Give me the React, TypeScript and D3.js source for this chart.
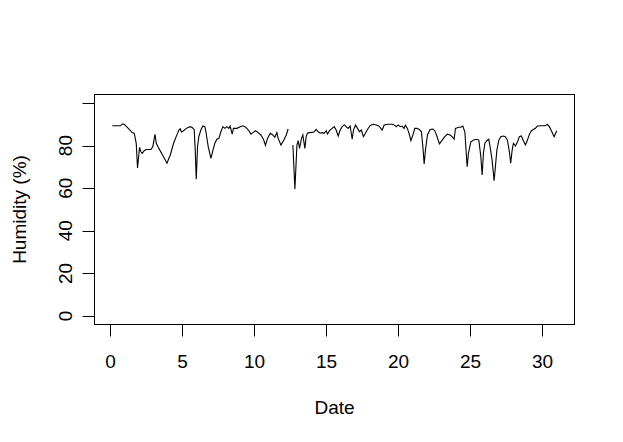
import React from "react";
import * as d3 from "d3";

// Day of month (fractional) and relative humidity (%); NaN marks missing data (gap)
const dayOffsets: number[] = [
  0.19, 0.74, 0.88, 1.02, 1.3, 1.57, 1.71, 1.85, 1.94, 2.08, 2.17, 2.27, 2.4, 2.54, 2.87, 3.0, 3.15, 3.24, 3.42, 3.74,
  3.98, 4.21, 4.44, 4.62, 4.81, 4.9, 4.99, 5.13, 5.32, 5.59, 5.73, 5.87, 5.94, 6.01, 6.1, 6.19, 6.33, 6.47, 6.61, 6.7,
  6.84, 7.03, 7.17, 7.3, 7.44, 7.58, 7.72, 7.86, 8.0, 8.14, 8.27, 8.36, 8.5, 8.59, 8.83, 9.06, 9.24, 9.38, 9.52, 9.66,
  9.8, 9.94, 10.12, 10.3, 10.49, 10.67, 10.81, 10.95, 11.14, 11.32, 11.46, 11.6, 11.69, 11.88, 12.06, 12.25, 12.38,
  12.55,
  12.71, 12.85, 12.99, 13.08, 13.17, 13.31, 13.4, 13.54, 13.63, 13.72, 13.86, 14.05, 14.19, 14.32, 14.46, 14.6, 14.74,
  14.88, 15.02, 15.11, 15.25, 15.43, 15.57, 15.71, 15.85, 15.99, 16.13, 16.27, 16.4, 16.54, 16.68, 16.82, 16.91, 17.05,
  17.19, 17.32, 17.46, 17.6, 17.74, 17.88, 18.07, 18.3, 18.48, 18.67, 18.9, 19.04, 19.31, 19.59, 19.73, 19.87, 20.01,
  20.15, 20.28, 20.42, 20.51, 20.65, 20.79, 20.89, 21.03, 21.16, 21.3, 21.48, 21.62, 21.72, 21.81, 21.9, 22.04, 22.22,
  22.41, 22.55, 22.69, 22.87, 23.06, 23.24, 23.42, 23.61, 23.75, 23.89, 23.98, 24.21, 24.35, 24.49, 24.63, 24.79, 24.88,
  25.05, 25.23, 25.46, 25.6, 25.74, 25.83, 25.92, 26.02, 26.15, 26.29, 26.38, 26.52, 26.66, 26.75, 26.85, 26.99, 27.12,
  27.3, 27.44, 27.58, 27.72, 27.81, 27.91, 28.0, 28.14, 28.28, 28.41, 28.55, 28.69, 28.83, 28.97, 29.11, 29.25, 29.38,
  29.52, 29.66, 29.94, 30.22, 30.35, 30.49, 30.63, 30.82, 31.0,
];

const humidity: number[] = [
  89.3, 89.3, 90.1, 90.0, 88.1, 86.1, 85.8, 81.1, 69.5, 79.2, 77.1, 76.4, 77.6, 78.2, 78.2, 79.5, 85.3, 81.1, 78.7, 74.8,
  71.7, 75.6, 81.1, 84.2, 87.3, 87.9, 86.4, 87.0, 88.1, 88.9, 88.5, 87.5, 77.9, 64.2, 79.5, 84.2, 87.3, 89.2, 88.9, 85.8,
  79.5, 74.0, 77.9, 81.1, 83.0, 83.4, 86.5, 88.9, 88.1, 88.9, 88.1, 89.2, 85.4, 88.1, 88.1, 88.9, 89.3, 88.9, 88.1, 87.0,
  85.4, 86.1, 87.0, 86.1, 85.0, 83.0, 80.1, 83.4, 85.8, 85.0, 83.9, 86.1, 83.4, 80.3, 82.3, 85.0, 87.8,
  NaN,
  80.3, 59.5, 80.3, 82.3, 78.7, 83.4, 85.0, 78.7, 84.2, 85.8, 86.1, 86.2, 86.5, 87.6, 86.5, 85.8, 86.1,
  85.8, 87.0, 85.4, 87.0, 88.1, 88.9, 87.3, 84.5, 87.3, 88.9, 89.7, 88.9, 88.1, 89.2, 83.0, 87.3, 89.7,
  88.1, 86.5, 87.3, 84.2, 85.8, 87.6, 89.5, 90.0, 89.7, 89.2, 87.3, 89.7, 90.0, 90.0, 89.7, 88.9, 89.7,
  88.9, 89.2, 88.1, 89.7, 88.1, 85.0, 82.3, 85.0, 88.1, 88.1, 87.6, 86.5, 79.5, 71.4, 77.9, 85.0, 87.6,
  87.8, 87.0, 84.5, 80.8, 82.6, 84.2, 85.4, 85.0, 84.2, 83.0, 88.1, 88.6, 88.6, 89.2, 86.5, 70.1, 76.5,
  81.8, 82.6, 83.0, 82.6, 74.8, 66.2, 76.4, 81.1, 82.3, 83.0, 79.5, 73.2, 63.5, 70.1, 77.9, 82.6, 84.2,
  84.5, 84.2, 82.6, 77.1, 71.7, 77.9, 81.1, 79.8, 81.8, 84.2, 84.5, 82.3, 80.3, 82.6, 85.4, 87.0, 87.6,
  88.1, 89.2, 89.3, 89.3, 90.0, 88.9, 87.0, 84.2, 87.0,
];

const xTicks: number[] = [0, 5, 10, 15, 20, 25, 30];
const yTicks: number[] = [0, 20, 40, 60, 80, 100];
const yLabelTicks: number[] = [0, 20, 40, 60, 80];
const xTitle = "Date";
const yTitle = "Humidity (%)";

const W = 623;
const H = 442;
const left = 94.5;
const right = 574.5;
const top = 94.5;
const bottom = 324.5;
const FONT = "Arial, 'Liberation Sans', sans-serif";

export default function App() {
  const points = dayOffsets.map((d, i) => ({ d, v: humidity[i] }));
  const valid = points.filter((p) => !isNaN(p.v));
  const [xmin, xmax] = d3.extent(valid, (p) => p.d) as [number, number];
  const xpad = (xmax - xmin) * 0.04;
  const x = d3.scaleLinear().domain([xmin - xpad, xmax + xpad]).range([left, right]);
  const y = d3.scaleLinear().domain([-4, 104]).range([bottom, top]);

  const line = d3
    .line<{ d: number; v: number }>()
    .defined((p) => !isNaN(p.v))
    .x((p) => x(p.d))
    .y((p) => y(p.v));

  const tickLen = 12;

  return (
    <svg
      width={W}
      height={H}
      style={{ position: "absolute", left: 0, top: 0, background: "#fff" }}
      fontFamily={FONT}
      fontSize={19}
    >
      <rect x={0} y={0} width={W} height={H} fill="#fff" />
      <path d={line(points) || ""} fill="none" stroke="#000" strokeWidth={1.1} />
      <rect x={left} y={top} width={right - left} height={bottom - top} fill="none" stroke="#000" strokeWidth={1} />

      {/* x axis */}
      <line
        x1={Math.round(x(xTicks[0])) + 0.5}
        x2={Math.round(x(xTicks[xTicks.length - 1])) + 0.5}
        y1={bottom}
        y2={bottom}
        stroke="#000"
      />
      {xTicks.map((t) => {
        const px = Math.round(x(t)) + 0.5;
        return (
          <g key={"x" + t}>
            <line x1={px} x2={px} y1={bottom} y2={bottom + tickLen} stroke="#000" />
            <text x={px} y={368} textAnchor="middle" fill="#000">
              {t}
            </text>
          </g>
        );
      })}
      <text x={(left + right) / 2} y={413.5} textAnchor="middle" fill="#000">
        {xTitle}
      </text>

      {/* y axis */}
      {yTicks.map((t) => {
        const py = Math.round(y(t)) + 0.5;
        return <line key={"y" + t} x1={left - tickLen} x2={left} y1={py} y2={py} stroke="#000" />;
      })}
      {yLabelTicks.map((t) => {
        const py = y(t);
        return (
          <text key={"yl" + t} transform={`translate(71.5,${py}) rotate(-90)`} textAnchor="middle" fill="#000">
            {t}
          </text>
        );
      })}
      <text transform={`translate(25.5,${(top + bottom) / 2}) rotate(-90)`} textAnchor="middle" fill="#000">
        {yTitle}
      </text>
    </svg>
  );
}
